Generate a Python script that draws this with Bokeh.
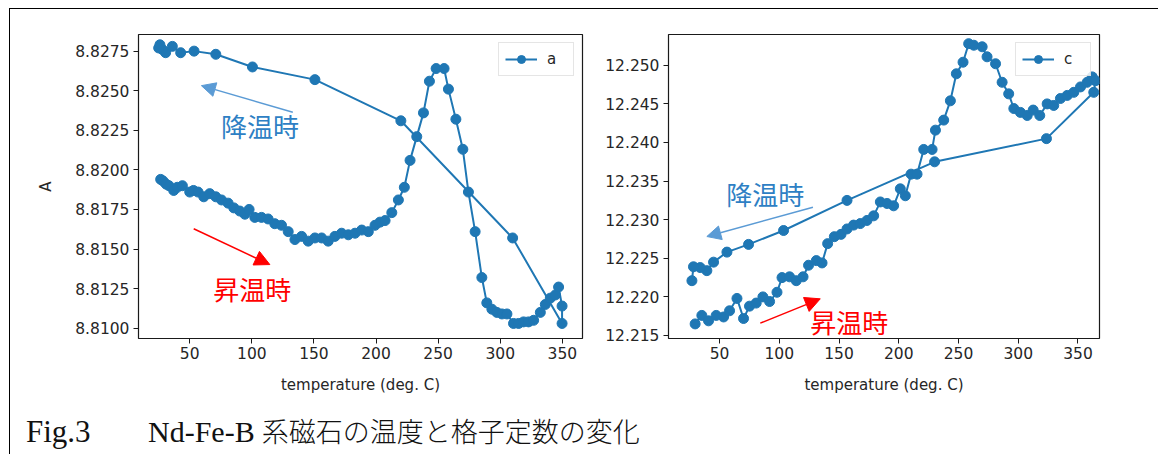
from bokeh.plotting import figure
from bokeh.models import (Range1d, FixedTicker, Arrow, NormalHead, Legend, LegendItem,
                          Div, PrintfTickFormatter, Spacer)
from bokeh.layouts import row, column
from bokeh.embed import file_html
from bokeh.resources import INLINE
from bokeh.core.properties import value

# ---------------- data ----------------
temp_a = [26.6, 28.5, 31, 33.3, 37.1, 40, 44.1, 50, 53, 56.7, 61.3, 66.1, 71, 75.6, 80.9,
          85.5, 90.3, 94.4, 97.8, 102.4, 107.8, 113.1, 118.5, 123.9, 129.3, 134.7, 140.1,
          145.4, 150.8, 156.2, 161.5, 166.9, 172.3, 177.7, 183.1, 188.5, 193.8, 199.2,
          203.2, 207.3, 212.7, 218, 222.8, 227.4, 232.8, 238.2, 243, 248.4, 254.8, 258.3,
          264.3, 269.9, 274.4, 279.8, 285.2, 289.2, 293.3, 297.3, 301.4, 305.4, 310.7,
          314.8, 318.8, 322.8, 326.9, 332.3, 336.3, 340.3, 344.4, 347, 349.8, 349.8,
          310, 220, 150.8, 100.5, 71, 53.5, 42.7, 36, 30.6, 28, 26, 25]
a_vals = [8.8194, 8.8193, 8.8191, 8.8190, 8.8187, 8.8189, 8.8190, 8.8186, 8.8187, 8.8186,
          8.8183, 8.8185, 8.8183, 8.8181, 8.8179, 8.8176, 8.8174, 8.8172, 8.8175, 8.8170,
          8.8170, 8.8169, 8.8166, 8.8165, 8.8161, 8.8156, 8.8158, 8.8155, 8.8157, 8.8157,
          8.8155, 8.8158, 8.8160, 8.8159, 8.8160, 8.8162, 8.8161, 8.8165, 8.8167, 8.8168,
          8.8173, 8.8181, 8.8189, 8.8206, 8.8221, 8.8236, 8.8256, 8.8264, 8.8264, 8.8251,
          8.8232, 8.8213, 8.8186, 8.8161, 8.8132, 8.8116, 8.8112, 8.8110, 8.8109, 8.8109,
          8.8103, 8.8103, 8.8104, 8.8104, 8.8105, 8.8110, 8.8115, 8.8119, 8.8121, 8.8126,
          8.8114, 8.8103,
          8.8157, 8.8231, 8.8257, 8.8265, 8.8273, 8.8275, 8.8274, 8.8278, 8.8274, 8.8276,
          8.8279, 8.8277]

temp_c = [29.6, 35.2, 40.8, 47.2, 53.4, 58.4, 64.6, 70.1, 75.1, 80.7, 86.3, 91.9, 98.1,
          102.3, 108.6, 114.2, 119.9, 124.5, 131, 135.8, 140.5, 146.1, 151.7, 156.7, 162.2,
          167.8, 173.4, 179, 184.6, 190.2, 195.7, 201.3, 205.5, 210.3, 215.3, 220.9, 227.9,
          230.7, 237.6, 243.2, 248.2, 253.8, 258.5, 262.8, 269.8, 273.9, 281, 286.5, 292,
          296.3, 301.8, 307.5, 312.5, 318, 324.2, 329.7, 335.3, 341, 346.5, 352.1, 357.7,
          361.9, 364.6, 363.2,
          323.6, 230, 156.7, 103.6, 74.3, 56.2, 45, 39.4, 33.8, 28.2, 26.9]
c_vals = [12.2165, 12.2176, 12.2169, 12.2176, 12.2174, 12.2182, 12.2198, 12.2172, 12.2188,
          12.2192, 12.2200, 12.2194, 12.2206, 12.2225, 12.2226, 12.2221, 12.2226, 12.2241,
          12.2247, 12.2244, 12.2269, 12.2278, 12.2281, 12.2288, 12.2293, 12.2295, 12.2299,
          12.2305, 12.2323, 12.2321, 12.2318, 12.2340, 12.2331, 12.2359, 12.2359, 12.2391,
          12.2391, 12.2416, 12.2429, 12.2454, 12.2489, 12.2504, 12.2528, 12.2526, 12.2524,
          12.2511, 12.2502, 12.2478, 12.2463, 12.2444, 12.2439, 12.2435, 12.2442, 12.2435,
          12.2450, 12.2448, 12.2457, 12.2461, 12.2465, 12.2472, 12.2478, 12.2485, 12.2480,
          12.2465,
          12.2405, 12.2375, 12.2325, 12.2286, 12.2268, 12.2258, 12.2245, 12.2234, 12.2238,
          12.2239, 12.2221]

x_ticks = [50, 100, 150, 200, 250, 300, 350]
a_ticks = [8.8100, 8.8125, 8.8150, 8.8175, 8.8200, 8.8225, 8.8250, 8.8275]
c_ticks = [12.215, 12.220, 12.225, 12.230, 12.235, 12.240, 12.245, 12.250]

series_a = "a"
series_c = "c"
x_label = "temperature (deg. C)"
y_label_a = "A"
cool_label = "降温時"
heat_label = "昇温時"
caption_fig = "Fig.3"
caption_latin = "Nd-Fe-B"
caption_jp = "系磁石の温度と格子定数の変化"

# annotation anchors (data units)
ann_a = dict(cool_text=(106.5, 8.82280), cool_arrow=(133, 8.82364, 59.4, 8.82532),
             heat_text=(100.4, 8.81249), heat_arrow=(53.2, 8.81628, 114.5, 8.81402))
ann_c = dict(cool_text=(88.3, 12.23336), cool_arrow=(128.2, 12.23162, 39.4, 12.22782),
             heat_text=(158.6, 12.21681), heat_arrow=(84.1, 12.2166, 134.3, 12.21975))

# ---------------- styling ----------------
LINE = "#1f77b4"
TXT = "#262626"
ARROW_BLUE = "#5b9bd5"
TEXT_BLUE = "#2e7fc4"
RED = "#ff0000"
TICK_FONT = "DejaVu Sans"
JP_FONT = "Noto Sans CJK JP"


def make_panel(xs, ys, xr, yr, yticks, fmt, label, ylabel, ann, width, bl, br):
    p = figure(width=width, height=394, output_backend="svg", toolbar_location=None,
               x_range=Range1d(*xr), y_range=Range1d(*yr),
               min_border_left=bl, min_border_right=br, min_border_top=25,
               min_border_bottom=65)
    p.xgrid.visible = False
    p.ygrid.visible = False
    p.outline_line_color = "#1a1a1a"
    p.outline_line_width = 1.2
    p.background_fill_color = "white"
    p.border_fill_color = "white"

    r_line = p.line(xs, ys, line_color=LINE, line_width=2)
    r_pts = p.scatter(xs, ys, size=10, fill_color=LINE, line_color=LINE)

    for ax in (p.xaxis[0], p.yaxis[0]):
        ax.axis_line_color = None
        ax.major_tick_line_color = "#1a1a1a"
        ax.major_tick_out = 5
        ax.major_tick_in = 0
        ax.minor_tick_line_color = None
        ax.major_label_text_font = TICK_FONT
        ax.major_label_text_font_size = "15.5px"
        ax.major_label_text_color = TXT
        ax.axis_label_text_font = TICK_FONT
        ax.axis_label_text_font_size = "15px"
        ax.axis_label_text_font_style = "normal"
        ax.axis_label_text_color = TXT
    p.xaxis.ticker = FixedTicker(ticks=x_ticks)
    p.xaxis.axis_label = x_label
    p.xaxis.major_label_standoff = 3
    p.xaxis.axis_label_standoff = 14
    p.yaxis.ticker = FixedTicker(ticks=yticks)
    p.yaxis.formatter = PrintfTickFormatter(format=fmt)
    p.yaxis.major_label_standoff = 4
    if ylabel:
        p.yaxis.axis_label = ylabel
        p.yaxis.axis_label_standoff = 17

    legend = Legend(items=[LegendItem(label=label, renderers=[r_line, r_pts])],
                    location="top_right", border_line_color="#cccccc",
                    border_line_width=1, background_fill_alpha=0.85,
                    label_text_font=TICK_FONT, label_text_font_size="15px",
                    label_text_color=TXT, glyph_width=32, glyph_height=20,
                    label_standoff=10, padding=6, margin=8, spacing=0)
    p.add_layout(legend)

    tx, ty = ann["cool_text"]
    p.text(x=[tx], y=[ty], text=[cool_label], text_font=value(JP_FONT),
           text_font_size="26px", text_color=TEXT_BLUE, text_align="center",
           text_baseline="middle")
    hx, hy = ann["heat_text"]
    p.text(x=[hx], y=[hy], text=[heat_label], text_font=value(JP_FONT),
           text_font_size="26px", text_color=RED, text_align="center",
           text_baseline="middle")
    x0, y0, x1, y1 = ann["cool_arrow"]
    p.add_layout(Arrow(end=NormalHead(size=14, fill_color=ARROW_BLUE, line_color=ARROW_BLUE),
                       x_start=x0, y_start=y0, x_end=x1, y_end=y1,
                       line_color=ARROW_BLUE, line_width=1.5))
    x0, y0, x1, y1 = ann["heat_arrow"]
    p.add_layout(Arrow(end=NormalHead(size=15, fill_color=RED, line_color=RED),
                       x_start=x0, y_start=y0, x_end=x1, y_end=y1,
                       line_color=RED, line_width=1.5))
    return p


p1 = make_panel(temp_a, a_vals, (8.75, 366.25), (8.80935, 8.82855), a_ticks, "%.4f",
                series_a, y_label_a, ann_a, 580, 128, 8)
p2 = make_panel(temp_c, c_vals, (7.3, 368.0), (12.21461, 12.25399), c_ticks, "%.3f",
                series_c, None, ann_c, 560, 78, 51)

caption_html = (
    '<div style="padding-top:2px;white-space:nowrap;color:#111;">'
    '<span style="display:inline-block;width:133px;padding-left:11px;box-sizing:border-box;'
    'font-family:\'Liberation Serif\',serif;font-size:31px;">' + caption_fig + '</span>'
    '<span style="font-family:\'Liberation Serif\',serif;font-size:30px;">' + caption_latin +
    '</span><span style="display:inline-block;width:7px;"></span>'
    '<span style="font-family:\'Noto Sans CJK JP\',sans-serif;font-size:27px;'
    'font-weight:300;">' + caption_jp + '</span></div>'
)
cap = Div(text=caption_html, width=1140, height=52)

inner = column(row(p1, p2), cap, styles={"border": "1px solid #000", "background": "white"})
layout = column(Spacer(height=8), row(Spacer(width=9), inner))

open("out.html", "w").write(file_html(layout, INLINE))
